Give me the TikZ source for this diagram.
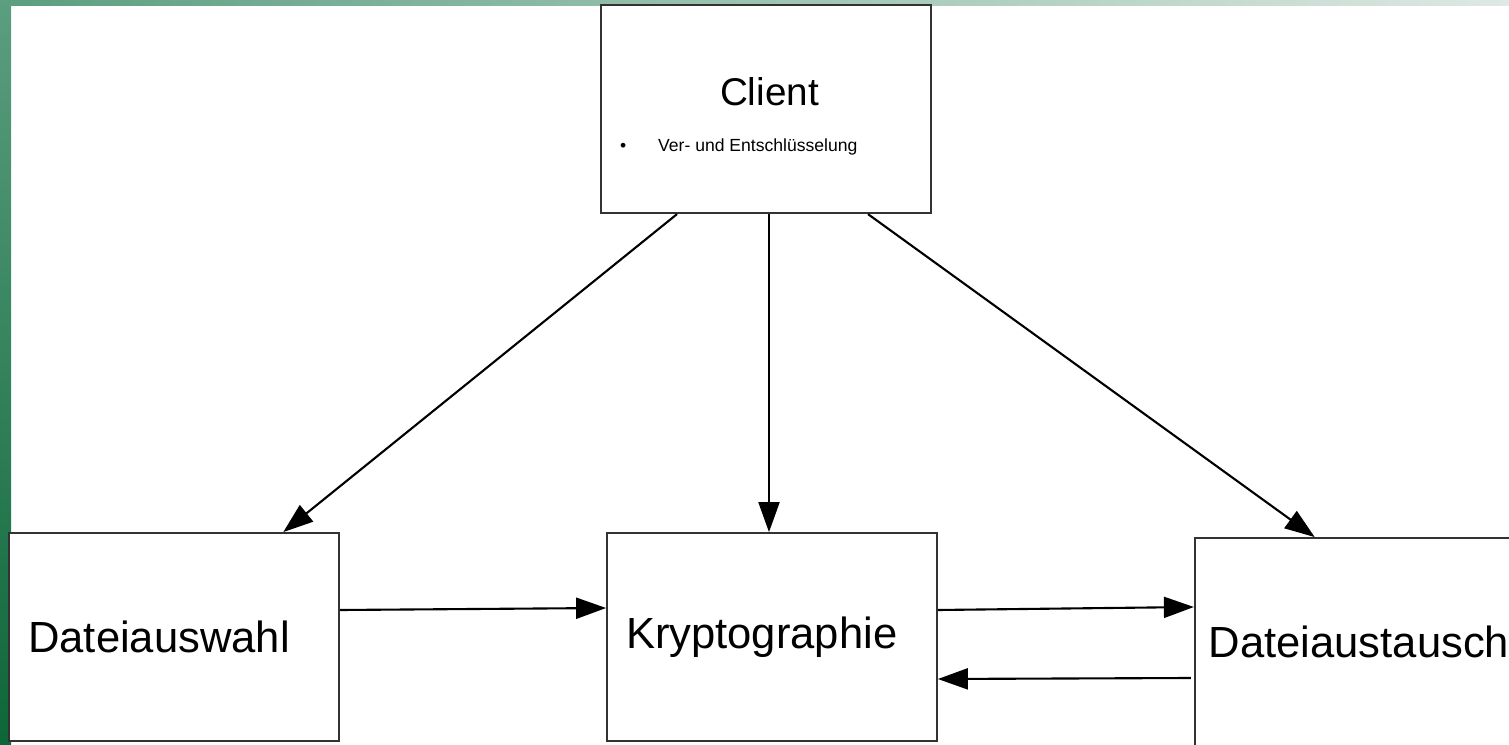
\documentclass[tikz,border=0pt]{standalone}
\usepackage{fontspec}
\setmainfont{Liberation Sans}
\usepackage{xcolor}
\usepackage{tikz}
\usetikzlibrary{arrows.meta, positioning}
\definecolor{framegreen}{HTML}{5B9E80}
\definecolor{framedark}{HTML}{0E6638}
\definecolor{framelight}{HTML}{DEE9E3}
\definecolor{myborder}{HTML}{333333}
\tikzset{
block/.style={
draw=myborder,
line width=0.5pt,
fill=white,
minimum height=2.08cm,
minimum width=3.30cm,
text width=2.92cm,
inner xsep=0.19cm,
align=left,
font=\fontsize{12.4}{14}\selectfont
},
clientbox/.style={
block,
font=\fontsize{11}{13.2}\selectfont
},
arrow/.style={
-{Triangle[length=0.30cm,width=0.21cm]},
line width=0.6pt,
draw=black
}
}

\begin{document}
\begin{tikzpicture}
\useasboundingbox (0,0) rectangle (15.09,7.44);
% frame
\shade[top color=framegreen, bottom color=framedark] (0,0) rectangle (0.11,7.44);
\shade[left color=framegreen, right color=framelight] (0,7.38) rectangle (15.09,7.44);

\node[block] (krypto) at (7.72,1.07) {Kryptographie};
\node[block, left=2.66cm of krypto] (dwahl) {Dateiauswahl};
\node[block, right=2.56cm of krypto, yshift=-0.05cm, inner xsep=0.14cm, text width=3.02cm] (daus) {Dateiaustausch};
\node[clientbox, above=3.18cm of krypto, xshift=-0.06cm] (client)
  {\rule{0pt}{0.42cm}\hspace*{1.0cm}Client\\
   \mbox{\fontsize{5}{6}\selectfont\spaceskip=0pt\xspaceskip=0pt\textbullet\hspace{0.32cm}Ver- und Entschlüsselung}};

\draw[arrow] ([xshift=-0.89cm]client.south) -- ([xshift=1.09cm]dwahl.north);
\draw[arrow] ([xshift=0.03cm]client.south) -- ([xshift=-0.03cm]krypto.north);
\draw[arrow] ([xshift=1.02cm]client.south) -- ([xshift=-0.45cm]daus.north);

\draw[arrow] ([yshift=0.27cm]dwahl.east) -- ([yshift=0.29cm]krypto.west);
\draw[arrow] ([yshift=0.27cm]krypto.east) -- ([yshift=0.35cm]daus.west);
\draw[arrow] ([xshift=-0.03cm, yshift=-0.36cm]daus.west) -- ([yshift=-0.42cm]krypto.east);

\end{tikzpicture}
\end{document}
